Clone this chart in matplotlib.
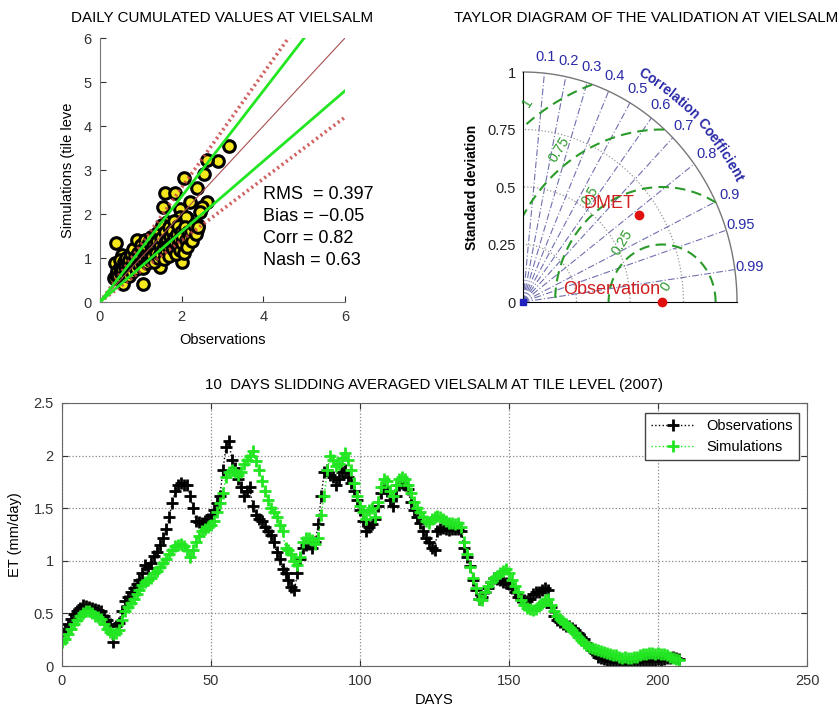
import numpy as np
import matplotlib
matplotlib.use("Agg")
import matplotlib.pyplot as plt
from matplotlib.textpath import TextToPath
from matplotlib.font_manager import FontProperties

plt.rcParams['font.family'] = ['Liberation Sans', 'DejaVu Sans']

# ---------------- daily scatter data (mm/day) ----------------
obs_daily = [3.15, 2.90, 2.62, 2.55, 2.06, 2.38, 1.59, 1.84, 1.55, 1.96, 2.20, 2.61, 2.49,
             2.14, 1.96, 1.63, 1.84, 2.37, 2.41, 0.39, 0.98, 1.55, 1.47, 1.71, 2.04, 2.00,
             1.47, 0.53, 1.06, 0.49, 0.37, 0.57, 2.10, 2.45,
             0.35, 0.38, 0.42, 0.45, 0.48, 0.50, 0.52, 0.55, 0.58, 0.60, 0.62, 0.64, 0.66,
             0.68, 0.70, 0.72, 0.74, 0.76, 0.78, 0.80, 0.82, 0.84, 0.86, 0.88, 0.90, 0.92,
             0.94, 0.96, 0.98, 1.00, 1.02, 1.04, 1.06, 1.08, 1.10, 1.12, 1.14, 1.16, 1.18,
             1.20, 1.22, 1.24, 1.26, 1.28, 1.30, 1.32, 1.34, 1.36, 1.38, 1.40, 1.42, 1.44,
             1.46, 1.48, 1.50, 1.52, 1.54, 1.56, 1.58, 1.60, 1.62, 1.64, 1.66, 1.68, 1.70,
             1.72, 1.74, 1.76, 1.78, 1.80, 1.82, 1.84, 1.86, 1.88, 1.90, 1.92, 1.94, 1.96,
             1.98, 2.00, 2.02, 2.05, 2.08, 2.10, 2.12, 2.15, 2.18, 2.22, 2.26, 2.30, 2.35, 2.40]
sim_daily = [3.55, 3.20, 3.22, 2.90, 2.82, 2.58, 2.47, 2.47, 2.16, 2.11, 2.27, 2.27, 2.16,
             1.90, 1.94, 1.82, 1.67, 1.63, 1.75, 1.33, 1.26, 1.41, 1.24, 1.16, 1.24, 0.92,
             0.80, 1.07, 0.42, 0.73, 0.88, 0.42, 1.94, 2.05,
             0.55, 0.62, 0.70, 0.58, 0.80, 0.95, 0.66, 0.75, 0.90, 0.62, 0.80, 1.00, 0.72,
             0.88, 0.58, 0.95, 0.78, 1.08, 0.68, 0.90, 1.20, 0.82, 1.02, 0.74, 1.40, 0.95,
             1.12, 0.84, 1.05, 1.30, 0.92, 1.18, 0.78, 1.00, 1.42, 1.10, 0.88, 1.25, 1.02,
             1.36, 0.95, 1.15, 1.48, 1.05, 1.28, 0.90, 1.20, 1.55, 1.12, 1.38, 1.00, 1.62,
             1.30, 1.08, 1.45, 1.75, 1.20, 0.98, 1.35, 1.58, 1.15, 1.42, 1.28, 1.70, 1.05,
             1.50, 1.32, 1.62, 1.20, 1.45, 1.85, 1.35, 1.10, 1.55, 1.28, 1.72, 1.42, 1.18,
             1.60, 1.35, 1.50, 1.12, 1.70, 1.40, 1.25, 1.58, 1.45, 1.62, 1.38, 1.75, 1.55, 1.70]
stats_text = ["RMS  = 0.397", "Bias = \u22120.05", "Corr = 0.82", "Nash = 0.63"]
inner_band = [0.8, 1.2]     # +/-20 % slopes
outer_band = [0.7, 1.3]     # +/-30 % slopes
one_to_one = 1.0

# ---------------- Taylor diagram data ----------------
corr_ticks = [0.1, 0.2, 0.3, 0.4, 0.5, 0.6, 0.7, 0.8, 0.9, 0.95, 0.99]
std_rings = [0.25, 0.5, 0.75]
rms_rings = [0.0, 0.25, 0.5, 0.75, 1.0]
std_ticks = [0, 0.25, 0.5, 0.75, 1]
ref_std = 0.65
model_std = 0.66
model_corr = 0.82
model_name = "DMET"
ref_name = "Observation"

# ---------------- 10-day sliding averages (mm/day) ----------------
obs_avg = [
    0.31, 0.34, 0.40, 0.45, 0.49, 0.52, 0.55, 0.58, 0.57, 0.56,
    0.55, 0.54, 0.53, 0.52, 0.48, 0.44, 0.40, 0.23, 0.38, 0.41,
    0.52, 0.62, 0.66, 0.70, 0.74, 0.78, 0.82, 0.88, 0.96, 0.93,
    0.98, 1.05, 1.08, 1.15, 1.22, 1.30, 1.42, 1.55, 1.66, 1.72,
    1.74, 1.72, 1.72, 1.62, 1.50, 1.38, 1.37, 1.36, 1.38, 1.40,
    1.44, 1.48, 1.55, 1.62, 1.86, 2.08, 2.14, 1.96, 1.88, 1.78,
    1.70, 1.62, 1.66, 1.70, 1.52, 1.44, 1.40, 1.38, 1.32, 1.28,
    1.25, 1.18, 1.08, 1.02, 0.92, 0.88, 0.82, 0.75, 0.72, 0.88,
    1.02, 1.12, 1.15, 1.16, 1.12, 1.18, 1.35, 1.62, 1.84, 1.86,
    1.82, 1.80, 1.72, 1.78, 1.84, 1.86, 1.80, 1.74, 1.66, 1.58,
    1.48, 1.38, 1.28, 1.32, 1.35, 1.40, 1.52, 1.64, 1.70, 1.66,
    1.58, 1.52, 1.62, 1.72, 1.74, 1.72, 1.68, 1.56, 1.48, 1.42,
    1.36, 1.28, 1.22, 1.18, 1.12, 1.10, 1.28, 1.30, 1.31, 1.30,
    1.29, 1.30, 1.30, 1.30, 1.28, 1.12, 1.04, 0.95, 0.82, 0.72,
    0.64, 0.66, 0.70, 0.74, 0.80, 0.84, 0.83, 0.82, 0.80, 0.79,
    0.78, 0.74, 0.70, 0.66, 0.64, 0.63, 0.62, 0.64, 0.68, 0.70,
    0.70, 0.72, 0.74, 0.72, 0.56, 0.48, 0.44, 0.42, 0.40, 0.38,
    0.38, 0.36, 0.34, 0.31, 0.28, 0.26, 0.22, 0.18, 0.15, 0.12,
    0.09, 0.08, 0.07, 0.06, 0.05, 0.05, 0.04, 0.04, 0.04, 0.03,
    0.04, 0.04, 0.05, 0.04, 0.05, 0.05, 0.06, 0.05, 0.06, 0.05,
    0.07, 0.06, 0.07, 0.08, 0.08, 0.09, 0.08, 0.07]
sim_avg = [
    0.23, 0.26, 0.30, 0.35, 0.40, 0.44, 0.48, 0.50, 0.52, 0.52,
    0.50, 0.48, 0.47, 0.45, 0.40, 0.35, 0.32, 0.30, 0.31, 0.34,
    0.44, 0.52, 0.56, 0.60, 0.64, 0.68, 0.72, 0.77, 0.80, 0.82,
    0.84, 0.88, 0.90, 0.94, 0.98, 1.02, 1.06, 1.10, 1.14, 1.15,
    1.16, 1.14, 1.10, 1.04, 1.10, 1.18, 1.24, 1.28, 1.30, 1.32,
    1.34, 1.38, 1.46, 1.55, 1.64, 1.80, 1.84, 1.86, 1.84, 1.82,
    1.84, 1.92, 1.96, 2.00, 2.04, 1.95, 1.86, 1.76, 1.66, 1.58,
    1.50, 1.46, 1.42, 1.34, 1.28, 1.12, 1.10, 1.06, 1.00, 0.96,
    1.04, 1.18, 1.22, 1.22, 1.20, 1.16, 1.22, 1.44, 1.62, 1.86,
    2.00, 1.96, 1.90, 1.92, 1.98, 2.02, 1.96, 1.86, 1.74, 1.62,
    1.52, 1.46, 1.40, 1.48, 1.50, 1.42, 1.56, 1.70, 1.78, 1.76,
    1.66, 1.62, 1.72, 1.78, 1.80, 1.78, 1.72, 1.64, 1.56, 1.50,
    1.46, 1.42, 1.38, 1.36, 1.40, 1.42, 1.43, 1.42, 1.40, 1.38,
    1.36, 1.36, 1.35, 1.36, 1.32, 1.18, 1.06, 0.94, 0.84, 0.74,
    0.64, 0.63, 0.70, 0.76, 0.80, 0.84, 0.86, 0.88, 0.90, 0.92,
    0.88, 0.82, 0.76, 0.70, 0.63, 0.58, 0.55, 0.54, 0.53, 0.54,
    0.57, 0.60, 0.63, 0.64, 0.58, 0.52, 0.48, 0.45, 0.42, 0.40,
    0.37, 0.34, 0.31, 0.28, 0.25, 0.22, 0.20, 0.18, 0.17, 0.16,
    0.15, 0.14, 0.13, 0.12, 0.11, 0.10, 0.10, 0.09, 0.08, 0.09,
    0.08, 0.08, 0.09, 0.09, 0.10, 0.11, 0.11, 0.12, 0.12, 0.11,
    0.12, 0.11, 0.11, 0.10, 0.09, 0.08, 0.07, 0.06]
day_ticks = [0, 50, 100, 150, 200, 250]
et_ticks = [0, 0.5, 1, 1.5, 2, 2.5]

GREEN = '#22e622'
W, H = 839, 711
fig = plt.figure(figsize=(W / 100, H / 100), dpi=100)


def px_axes(left, top, right, bottom):
    return fig.add_axes([left / W, 1 - bottom / H, (right - left) / W, (bottom - top) / H])


# ================= scatter =================
ax1 = px_axes(100, 38, 345, 302)
ax1.scatter(obs_daily, sim_daily, s=70, facecolor='#f5e81c', edgecolor='black',
            linewidths=2.2, zorder=2)
xx = np.array([0.0, 6.0])
ax1.plot(xx, one_to_one * xx, color='#a85050', lw=0.8, zorder=3)
for k in outer_band:
    ax1.plot(xx, k * xx, color='#c84848', lw=2.6, ls=(0, (0.6, 0.9)), alpha=0.85, zorder=3)
for k in inner_band:
    ax1.plot(xx, k * xx, color=GREEN, lw=2.0, zorder=4)
ax1.set_xlim(0, 6)
ax1.set_ylim(0, 6)
ax1.set_xticks([0, 2, 4, 6])
ax1.set_yticks([0, 1, 2, 3, 4, 5, 6])
ax1.tick_params(direction='in', length=4, colors='#333333', labelsize=10.5, pad=6)
for s in ['top', 'right']:
    ax1.spines[s].set_visible(False)
for s in ['left', 'bottom']:
    ax1.spines[s].set_color('#777777')
ax1.set_xlabel('Observations', fontsize=10.5, labelpad=6)
ax1.set_ylabel('Simulations (tile leve', fontsize=10.5, labelpad=6)
for i, t in enumerate(stats_text):
    ax1.text(4.0, 2.45 - i * 0.5, t, fontsize=13, va='center', ha='left', zorder=5)
fig.text(222 / W, 1 - 18 / H, 'DAILY CUMULATED VALUES AT VIELSALM', ha='center',
         va='center', fontsize=10.9)

# ================= Taylor diagram =================
ax2 = px_axes(523, 72, 737, 302)
ax2.set_xlim(0, 1)
ax2.set_ylim(0, 1)
th = np.linspace(0, np.pi / 2, 300)
ax2.plot(np.cos(th), np.sin(th), color='#777777', lw=1.0, clip_on=False)
for r in std_rings:
    ax2.plot(r * np.cos(th), r * np.sin(th), color='#999999', lw=0.9, ls=':')
for c in corr_ticks:
    a = np.arccos(c)
    ax2.plot([0, np.cos(a)], [0, np.sin(a)], color='#7070b0', lw=0.8,
             ls=(0, (6, 2, 1, 2)))
    ax2.text(1.07 * np.cos(a), 1.07 * np.sin(a), f'{c:g}', color='#2a2aa8',
             fontsize=10.5, ha='center', va='center', clip_on=False)
# centred RMS difference circles around the reference point
phi = np.linspace(0, np.pi, 600)
for r in rms_rings[1:]:
    x = ref_std + r * np.cos(phi)
    y = r * np.sin(phi)
    keep = (x >= 0) & (x ** 2 + y ** 2 <= 1.0)
    x = np.where(keep, x, np.nan)
    y = np.where(keep, y, np.nan)
    ax2.plot(x, y, color='#2a9a2a', lw=1.5, ls=(0, (5, 3)))
for r in rms_rings:
    ang = np.deg2rad(76 if r == 0 else 126)
    d = r + 0.07
    ax2.text(ref_std + d * np.cos(ang), d * np.sin(ang), f'{r:g}', color='#2a9a2a',
             fontsize=10, rotation=58, ha='center', va='center', clip_on=False)
# curved axis title along the arc
prop = FontProperties(family='Liberation Sans', size=10, weight='bold')
ttp = TextToPath()
label = 'Correlation Coefficient'
widths = [ttp.get_text_width_height_descent(ch, prop, ismath=False)[0] * 100 / 72
          for ch in label]
r_lab = 1.14
r_px = 222 * r_lab
theta = np.deg2rad(61.5)
for ch, w in zip(label, widths):
    theta -= (w / 2) / r_px
    ax2.text(r_lab * np.cos(theta), r_lab * np.sin(theta), ch, fontproperties=prop,
             color='#2a2aa8', rotation=np.rad2deg(theta) - 90, ha='center',
             va='center', rotation_mode='anchor', clip_on=False)
    theta -= (w / 2) / r_px
# points
mx = model_std * model_corr
my = model_std * np.sqrt(1 - model_corr ** 2)
ax2.plot([mx], [my], 'o', color='#e01010', ms=6, zorder=5)
ax2.plot([ref_std], [0], 'o', color='#e01010', ms=6, zorder=5, clip_on=False)
ax2.plot([0], [0], 's', color='#2020c0', ms=4, zorder=5, clip_on=False)
ax2.annotate(model_name, (mx, my), xytext=(-3, 2), textcoords='offset points',
             ha='right', va='bottom', color='#d02020', fontsize=13, zorder=6)
ax2.annotate(ref_name, (ref_std, 0), xytext=(-1, 3), textcoords='offset points',
             ha='right', va='bottom', color='#d02020', fontsize=13, zorder=6)
ax2.set_yticks(std_ticks)
ax2.set_yticklabels([f'{v:g}' for v in std_ticks])
ax2.set_xticks([])
ax2.tick_params(axis='y', length=0, pad=5, labelsize=10.5, colors='#222222')
for s in ['top', 'right']:
    ax2.spines[s].set_visible(False)
ax2.set_ylabel('Standard deviation', fontsize=10, fontweight='bold', labelpad=6)
fig.text(646 / W, 1 - 18 / H, 'TAYLOR DIAGRAM OF THE VALIDATION AT VIELSALM',
         ha='center', va='center', fontsize=10.9)

# ================= time series =================
ax3 = px_axes(62, 403, 807, 666)
days = np.arange(len(obs_avg))
ax3.plot(days, obs_avg, ls=':', lw=1.0, color='black', marker='+', ms=8, mew=2.0,
         label='Observations')
ax3.plot(days[:len(sim_avg)], sim_avg, ls=':', lw=1.0, color=GREEN, marker='+', ms=8,
         mew=2.0, label='Simulations')
ax3.set_xlim(0, 250)
ax3.set_ylim(0, 2.5)
ax3.set_xticks(day_ticks)
ax3.set_yticks(et_ticks)
ax3.set_yticklabels([f'{v:g}' for v in et_ticks])
ax3.grid(True, ls=':', color='#888888', lw=0.9)
ax3.tick_params(direction='in', length=4, top=True, right=True, labelsize=10.5,
                colors='#333333', pad=6)
for s in ax3.spines.values():
    s.set_color('#666666')
ax3.set_xlabel('DAYS', fontsize=10.5, labelpad=3)
ax3.set_ylabel('ET (mm/day)', fontsize=10.5, labelpad=8)
leg = ax3.legend(loc='upper right', bbox_to_anchor=(0.989, 0.962), borderaxespad=0,
                 fontsize=10.5, fancybox=False, framealpha=1, edgecolor='#444444',
                 handlelength=3.0)
leg.get_frame().set_linewidth(1.0)
fig.text(434 / W, 1 - 385 / H, '10  DAYS SLIDDING AVERAGED VIELSALM AT TILE LEVEL (2007)',
         ha='center', va='center', fontsize=10.8)

fig.savefig('out.png', dpi=100)
